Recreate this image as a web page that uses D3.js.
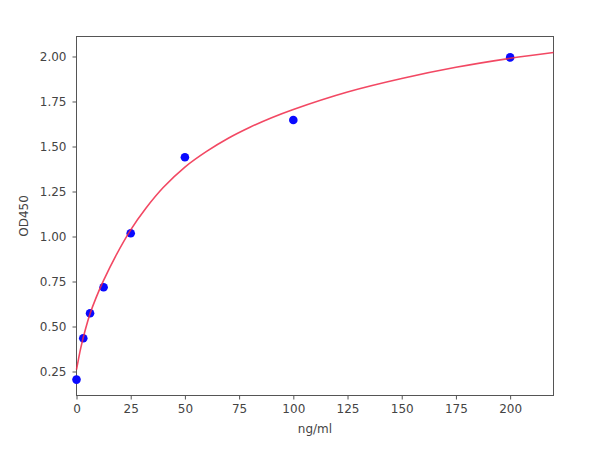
<!DOCTYPE html>
<html>
<head>
<meta charset="utf-8">
<script src="https://cdn.jsdelivr.net/npm/d3@7"></script>
<style>
  html, body { margin: 0; padding: 0; background: #fff; }
  svg { display: block; }
  text { font-family: "DejaVu Sans", sans-serif; }
</style>
</head>
<body>
<script>
// Standard points (concentration ng/ml, OD450)
const concentrations = [0, 3.125, 6.25, 12.5, 25, 50, 100, 200];
const odValues = [0.205, 0.435, 0.574, 0.718, 1.018, 1.44, 1.647, 1.995];

// Fitted curve samples
const curveX = [0, 2, 4, 6.25, 9, 12.5, 18, 25, 32, 40, 50, 60, 70, 80, 90, 100, 125, 150, 175, 200, 220];
const curveY = [0.26, 0.383, 0.479, 0.571, 0.659, 0.756, 0.89, 1.037, 1.157, 1.272, 1.386, 1.473, 1.546, 1.607, 1.66, 1.706, 1.803, 1.878, 1.94, 1.99, 2.022];

const xTicks = [0, 25, 50, 75, 100, 125, 150, 175, 200];
const yTicks = [0.25, 0.5, 0.75, 1.0, 1.25, 1.5, 1.75, 2.0];
const xLabel = "ng/ml";
const yLabel = "OD450";

const W = 600, H = 452;
const m = { left: 76.5, right: 46.5, top: 36.5, bottom: 56.5 };

const svg = d3.select("body").append("svg").attr("width", W).attr("height", H);

const x = d3.scaleLinear().domain([0, 220]).range([m.left, W - m.right]);
const y = d3.scaleLinear().domain([0.1167, 2.1111]).range([H - m.bottom, m.top]);

// Axes
const gx = svg.append("g")
  .attr("transform", `translate(0,${H - m.bottom})`)
  .call(d3.axisBottom(x).tickValues(xTicks).tickFormat(d3.format("d")).tickSize(4).tickPadding(5));
const gy = svg.append("g")
  .attr("transform", `translate(${m.left},0)`)
  .call(d3.axisLeft(y).tickValues(yTicks).tickFormat(d3.format(".2f")).tickSize(4).tickPadding(6));

[gx, gy].forEach(g => {
  g.select(".domain").remove();
  g.selectAll(".tick line").attr("stroke", "#555");
  g.selectAll(".tick text").attr("fill", "#444").style("font-size", "12px").style("font-family", "DejaVu Sans");
});

// Frame
svg.append("rect")
  .attr("x", x(0)).attr("y", y(2.1111))
  .attr("width", x(220) - x(0)).attr("height", y(0.1167) - y(2.1111))
  .attr("fill", "none").attr("stroke", "#555").attr("stroke-width", 1);

// Points
svg.append("g").selectAll("circle")
  .data(concentrations.map((c, i) => [c, odValues[i]]))
  .join("circle")
  .attr("cx", d => x(d[0])).attr("cy", d => y(d[1]))
  .attr("r", 4.3).attr("fill", "#0a0aff");

// Curve
const line = d3.line().x(d => x(d[0])).y(d => y(d[1])).curve(d3.curveCatmullRom.alpha(0.5));
svg.append("path")
  .datum(curveX.map((c, i) => [c, curveY[i]]))
  .attr("d", line)
  .attr("fill", "none").attr("stroke", "#f02848").attr("stroke-opacity", 0.85).attr("stroke-width", 1.6);

// Labels
svg.append("text")
  .attr("x", (x(0) + x(220)) / 2).attr("y", 429)
  .attr("text-anchor", "middle").attr("dominant-baseline", "middle")
  .attr("fill", "#444").style("font-size", "12px").text(xLabel);
svg.append("text")
  .attr("transform", `translate(24,${(y(0.1167) + y(2.1111)) / 2}) rotate(-90)`)
  .attr("text-anchor", "middle").attr("dominant-baseline", "middle")
  .attr("fill", "#444").style("font-size", "12px").text(yLabel);
</script>
</body>
</html>
